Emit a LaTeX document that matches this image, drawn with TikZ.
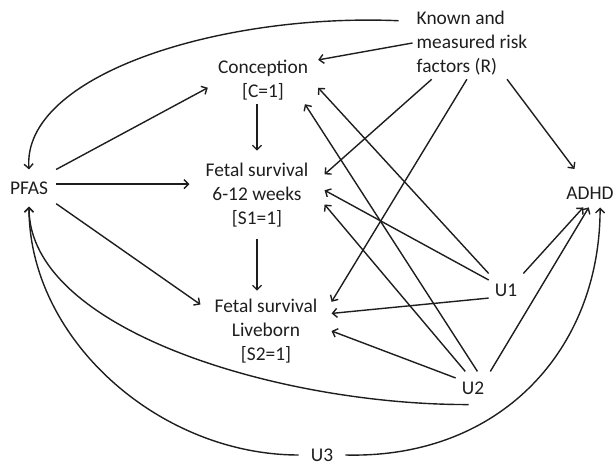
\documentclass[tikz,border=0pt]{standalone}
\usepackage{fontspec}
\setmainfont{Carlito}
\usetikzlibrary{arrows.meta,calc}
\definecolor{ink}{RGB}{30,30,30}

\begin{document}
\begin{tikzpicture}[x=1pt,y=1pt]
\tikzset{var/.style={font=\fontsize{19.4}{24}\selectfont,text=ink,align=center,inner sep=4pt},
  arr/.style={-{Straight Barb[length=4.5pt,width=9pt]},line width=1.4pt,draw=ink}}
\useasboundingbox (0,0) rectangle (613,465);
\node[var,align=left] (R) at (472,422) {Known and\\measured risk\\factors (R)};
\node[var,inner xsep=10pt] (C) at (263,385) {Conception\\{[C=1]}};
\node[var,inner xsep=16pt,inner ysep=12pt] (S1) at (257,270) {Fetal survival\\6-12 weeks\\{[S1=1]}};
\node[var,inner xsep=14pt,inner ysep=8pt] (S2) at (266,134) {Fetal survival\\Liveborn\\{[S2=1]}};
\node[var,inner xsep=8pt,inner ysep=12pt] (PFAS) at (29,277) {PFAS};
\node[var,inner ysep=8pt] (ADHD) at (590,272) {ADHD};
\node[var,inner xsep=6pt,inner ysep=10pt] (U1) at (506,175) {U1};
\node[var,inner xsep=6pt,inner ysep=10pt] (U2) at (473,77) {U2};
\node[var,inner xsep=12pt] (U3) at (322,10) {U3};
\foreach \a/\b in {R.west/C.20,R.222/S1.17,R.262/S2.24,PFAS.north east/C.188,PFAS.-30/S2.158,
  U1.north west/C.-8,U1.150/S1.4,U1.-155/S2.15,U1.north east/ADHD.-115,
  U2.75/C.-30,U2.115/S1.-8,U2.150/S2.east,U2.north east/ADHD.-95}
  \draw[arr] (\a)--(\b);
\draw[arr,shorten >=12pt] (R.-46)--(ADHD.120);
\draw[arr] (PFAS.8)--(PFAS.8 -| S1.west);
\draw[arr] (C.south -| S1.north)--(S1.north);
\draw[arr] (S1.south)--(S1.south |- S2.north);
\draw[arr,shorten <=14pt] (R.160) .. controls (220,452) and (22,390) .. (PFAS.north);
\draw[arr] (U2.-105) .. controls (280,60) and (29,135) .. (PFAS.south);
\draw[arr] (U3.west) .. controls (160,10) and (29,125) .. (PFAS.south);
\draw[arr] (U3.east) .. controls (500,6) and (600,115) .. (ADHD.-55);
\end{tikzpicture}
\end{document}
